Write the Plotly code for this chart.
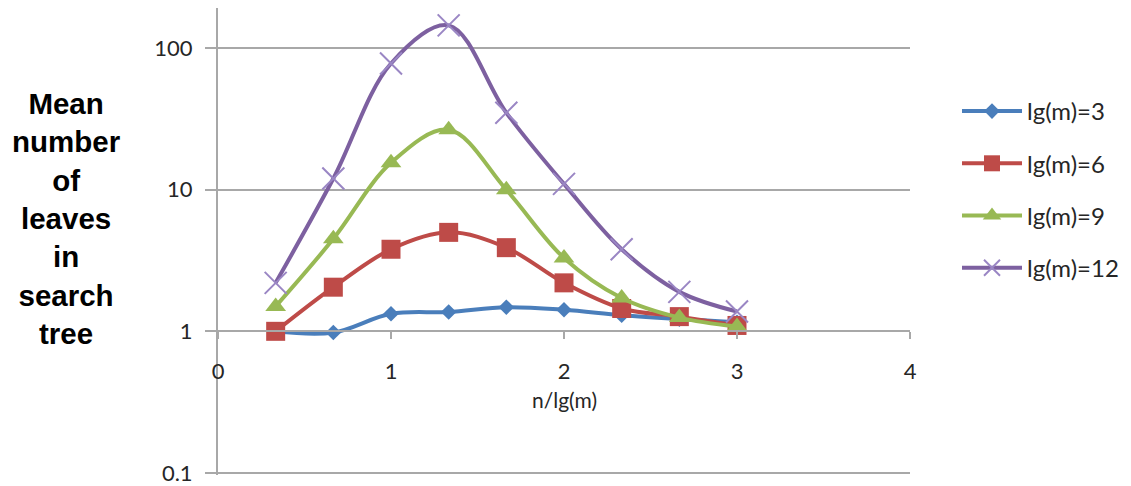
import plotly.graph_objects as go

# n / lg(m) sample points
ratio = [1/3, 2/3, 1, 4/3, 5/3, 2, 7/3, 8/3, 3]

# mean number of leaves in the search tree for each lg(m)
leaves_lg3 = [1.0, 0.98, 1.33, 1.37, 1.48, 1.42, 1.3, 1.22, 1.16]
leaves_lg6 = [1.0, 2.05, 3.8, 5.0, 3.9, 2.2, 1.45, 1.27, 1.1]
leaves_lg9 = [1.5, 4.5, 15.5, 26.5, 10.0, 3.3, 1.72, 1.25, 1.08]
leaves_lg12 = [2.2, 12.0, 78.0, 145.0, 35.0, 11.0, 3.8, 1.9, 1.38]

series_names = ["lg(m)=3", "lg(m)=6", "lg(m)=9", "lg(m)=12"]

y_tickvals = [0.1, 1, 10, 100]
y_ticktext = ["0.1", "1", "10", "100"]
x_tickvals = [0, 1, 2, 3, 4]

SANS = "Lato, Open Sans, sans-serif"
TICK_FONT = dict(family=SANS, size=22, color="#262626")
GRID = "#a8a8a8"

styles = [
    dict(color="#4a7ebb", marker=dict(symbol="diamond", size=12, color="#4a7ebb")),
    dict(color="#be4b48", marker=dict(symbol="square", size=19, color="#be4b48")),
    dict(color="#98b954", marker=dict(symbol="triangle-up", size=18, color="#98b954")),
    dict(color="#7d60a0", marker=dict(symbol="x-thin", size=22, color="#9a86c4",
                                      line=dict(width=2, color="#9a86c4"))),
]

fig = go.Figure()
for name, values, st in zip(series_names, [leaves_lg3, leaves_lg6, leaves_lg9, leaves_lg12], styles):
    fig.add_trace(go.Scatter(
        x=ratio, y=values, name=name, mode="lines+markers",
        line=dict(color=st["color"], width=4, shape="spline", smoothing=1.0),
        marker=st["marker"], legendgroup=name, cliponaxis=False,
    ))

# log10 range of the value axis; a little below 0.1 so that grid line is kept
y_lo, y_hi = -1.015, 2.284
x_pos = (0 - y_lo) / (y_hi - y_lo)  # where value 1 sits within the y domain

PLOT_TOP, PLOT_BOTTOM, PLOT_LEFT, PLOT_RIGHT = 8, 475, 218, 910
plot_h = PLOT_BOTTOM - PLOT_TOP
plot_w = PLOT_RIGHT - PLOT_LEFT

fig.update_layout(
    width=1131, height=486,
    margin=dict(l=PLOT_LEFT, r=1131 - PLOT_RIGHT, t=PLOT_TOP, b=486 - PLOT_BOTTOM,
                autoexpand=False),
    paper_bgcolor="white", plot_bgcolor="white",
    showlegend=True,
    legend=dict(
        x=(957 - PLOT_LEFT) / plot_w, y=(PLOT_BOTTOM - 89) / plot_h,
        xanchor="left", yanchor="top",
        font=dict(family=SANS, size=24, color="#262626"),
        tracegroupgap=18, bgcolor="rgba(0,0,0,0)", itemwidth=60,
    ),
    xaxis=dict(
        range=[0, 4], tickvals=x_tickvals, ticktext=[str(v) for v in x_tickvals],
        showgrid=False, zeroline=False, automargin=False,
        showline=True, linecolor=GRID, linewidth=2,
        ticks="outside", ticklen=7, tickwidth=1.5, tickcolor=GRID,
        tickfont=TICK_FONT, ticklabelstandoff=13,
        anchor="free", position=x_pos,
    ),
    yaxis=dict(
        type="log", range=[y_lo, y_hi], automargin=False,
        tickvals=y_tickvals, ticktext=y_ticktext,
        showgrid=True, gridcolor=GRID, gridwidth=2,
        showline=True, linecolor=GRID, linewidth=2,
        ticks="outside", ticklen=11, tickwidth=1.5, tickcolor=GRID,
        tickfont=TICK_FONT, ticklabelstandoff=8,
        zeroline=False,
    ),
    annotations=[
        dict(text="n/lg(m)", x=2, xref="x", y=(PLOT_BOTTOM - 399) / plot_h, yref="paper",
             showarrow=False, xanchor="center", yanchor="middle",
             font=dict(family=SANS, size=21, color="#262626")),
        dict(text="Mean<br>number<br>of<br>leaves<br>in<br>search<br>tree",
             x=(66 - PLOT_LEFT) / plot_w, xref="paper",
             y=(PLOT_BOTTOM - 219) / plot_h, yref="paper",
             showarrow=False, xanchor="center", yanchor="middle", align="center",
             font=dict(family="Liberation Sans, Arial, sans-serif", size=29.5, color="black",
                       weight="bold")),
    ],
)

fig.write_html("out.html")
